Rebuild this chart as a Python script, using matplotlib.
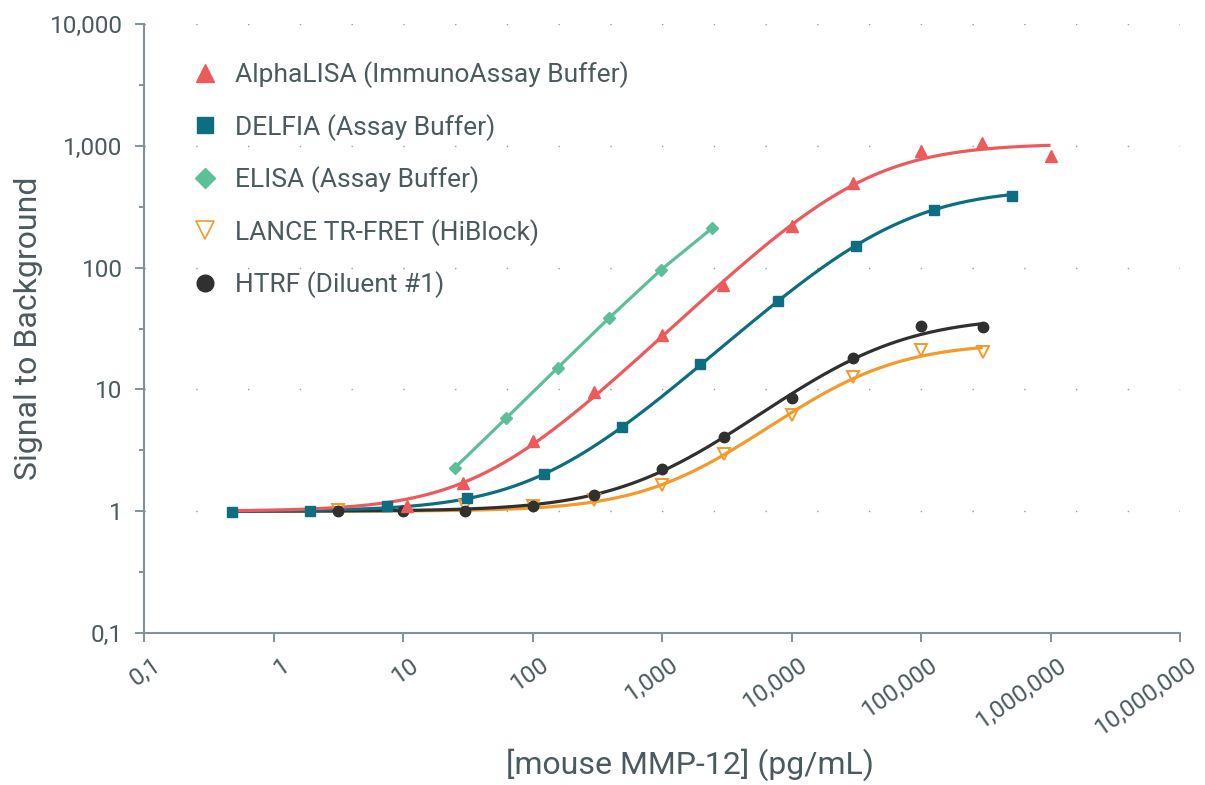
import numpy as np
import matplotlib.pyplot as plt
from matplotlib.lines import Line2D
from matplotlib.ticker import FixedLocator, NullFormatter, NullLocator
import matplotlib.transforms as mtransforms

plt.rcParams['font.family'] = ['Roboto', 'DejaVu Sans']

# Data
alpha_x = [10.8, 29, 100, 300, 1000, 2950, 10000, 30000, 100000, 295000, 1000000]
alpha_y = [1.1, 1.7, 3.77, 9.5, 28, 72, 218, 495, 912, 1060, 830]

delfia_x = [0.48, 1.9, 7.5, 31, 122, 488, 1950, 7800, 31250, 125000, 500000]
delfia_y = [0.99, 1.01, 1.1, 1.29, 2.02, 4.9, 16.2, 53, 150, 297, 387]

elisa_x = [25, 62.5, 156, 390, 977, 2441]
elisa_y = [2.26, 5.8, 15.0, 38.6, 95.5, 211]

lance_x = [3.16, 30, 100, 300, 1000, 3000, 10000, 30000, 100000, 300000]
lance_y = [1.02, 1.1, 1.1, 1.24, 1.64, 2.95, 6.17, 12.7, 21, 20.2]

htrf_x = [3.16, 10, 30, 100, 300, 1000, 3000, 10000, 30000, 100000, 300000]
htrf_y = [1.0, 1.01, 1.01, 1.1, 1.36, 2.21, 4.1, 8.45, 18.1, 33, 32.5]

labels = ['AlphaLISA (ImmunoAssay Buffer)', 'DELFIA (Assay Buffer)',
          'ELISA (Assay Buffer)', 'LANCE TR-FRET (HiBlock)', 'HTRF (Diluent #1)']

x_ticks = [0.1, 1, 10, 100, 1e3, 1e4, 1e5, 1e6, 1e7]
x_tick_labels = ['0,1', '1', '10', '100', '1,000', '10,000', '100,000',
                 '1,000,000', '10,000,000']
y_ticks = [0.1, 1, 10, 100, 1000, 10000]
y_tick_labels = ['0,1', '1', '10', '100', '1,000', '10,000']

TEXT = '#4b5a5f'
AXIS = '#7f9398'
RED = '#ec5a5b'
TEAL = '#0c6e80'
GREEN = '#5dbf98'
ORANGE = '#f39a2b'
DARK = '#303030'

BOTTOM = 1.0  # signal to background without analyte


# 4-parameter logistic fit with the bottom held at 1
# (grid over slope/midpoint, linear solve for the top)
def fit_4pl(x, y):
    lx = np.log10(x)
    y = np.asarray(y, float)
    best_err, best = np.inf, None
    for b in np.linspace(0.4, 2.5, 85):
        for c in np.linspace(0.0, 7.0, 141):
            g = 1.0 / (1.0 + 10 ** (b * (lx - c)))
            h = (1 - g) / y
            t = (y - BOTTOM * g) / y
            d = np.dot(h, t) / np.dot(h, h)
            model = BOTTOM * g + d * (1 - g)
            if np.any(model <= 0):
                continue
            err = np.sum((np.log10(model) - np.log10(y)) ** 2)
            if err < best_err:
                best_err, best = err, (b, c, d)
    return best


def fit_curve(x, y, x0):
    b, c, d = fit_4pl(x, y)
    xs = np.logspace(np.log10(x0), np.log10(max(x)), 300)
    g = 1.0 / (1.0 + (xs / 10 ** c) ** b)
    return xs, BOTTOM * g + d * (1 - g)


fig = plt.figure(figsize=(12.05, 7.85), dpi=100)
ax = fig.add_axes([0.1195, 0.1936, 0.8598, 0.7758])

ax.set_xscale('log')
ax.set_yscale('log')
ax.set_xlim(0.1, 1e7)
ax.set_ylim(0.1, 1e4)

x_start = min(delfia_x)

# fitted curves
for xs_, ys_, col in [(lance_x, lance_y, ORANGE), (htrf_x, htrf_y, DARK),
                      (delfia_x, delfia_y, TEAL), (alpha_x, alpha_y, RED)]:
    cx, cy = fit_curve(xs_, ys_, x_start)
    ax.plot(cx, cy, color=col, lw=2.3, zorder=2, solid_capstyle='butt')
ax.plot(elisa_x, elisa_y, color=GREEN, lw=2.3, zorder=2)

# data points
ax.plot(lance_x, lance_y, 'v', ms=8, mfc='none', mec=ORANGE, mew=1.4, zorder=3)
ax.plot(htrf_x, htrf_y, 'o', ms=7.5, color=DARK, zorder=3)
ax.plot(delfia_x, delfia_y, 's', ms=7.3, color=TEAL, zorder=3)
ax.plot(alpha_x, alpha_y, '^', ms=8, color=RED, zorder=3)
ax.plot(elisa_x, elisa_y, 'D', ms=6.2, color=GREEN, zorder=3)

# axes styling
for s in ['top', 'right']:
    ax.spines[s].set_visible(False)
for s in ['left', 'bottom']:
    ax.spines[s].set_color(AXIS)
    ax.spines[s].set_linewidth(1.5)

ax.set_xticks(x_ticks)
ax.set_xticklabels(x_tick_labels, rotation=35, ha='right', va='top',
                   rotation_mode='anchor')
ax.xaxis.set_minor_locator(NullLocator())
ax.set_yticks(y_ticks)
ax.set_yticklabels(y_tick_labels)
ax.yaxis.set_minor_locator(FixedLocator(10 ** (np.arange(-1, 4) + 0.5)))
ax.yaxis.set_minor_formatter(NullFormatter())

ax.tick_params(axis='both', which='major', length=6.5, width=1.4, color=AXIS,
               labelsize=17.5, labelcolor=TEXT)
ax.tick_params(axis='y', which='minor', length=3.6, width=1.4, color=AXIS)
ax.tick_params(axis='x', pad=8)
ax.tick_params(axis='y', pad=9)

shift = mtransforms.ScaledTranslation(7.5 / 100, 0, fig.dpi_scale_trans)
for lbl in ax.get_xticklabels():
    lbl.set_transform(lbl.get_transform() + shift)

ax.yaxis.grid(True, which='major', color='#9a9a9a', linewidth=1.0,
              linestyle=(0, (1.0, 36.26)))
ax.set_axisbelow(True)

ax.set_ylabel('Signal to Background', fontsize=23, color=TEXT)
ax.yaxis.set_label_coords(-0.097, 0.5)
ax.set_xlabel('[mouse MMP-12] (pg/mL)', fontsize=23, color=TEXT)
ax.xaxis.set_label_coords(0.527, -0.189)

# legend
handles = [
    Line2D([], [], ls='none', marker='^', ms=8, color=RED),
    Line2D([], [], ls='none', marker='s', ms=7.3, color=TEAL),
    Line2D([], [], ls='none', marker='D', ms=6.2, color=GREEN),
    Line2D([], [], ls='none', marker='v', ms=8, mfc='none', mec=ORANGE, mew=1.2),
    Line2D([], [], ls='none', marker='o', ms=7.5, color=DARK),
]
ax.legend(handles, labels, loc='upper left', bbox_to_anchor=(0.1592, 0.9218),
          bbox_transform=fig.transFigure, frameon=False, fontsize=19,
          labelcolor=TEXT, markerscale=1.6, handlelength=1.0,
          handletextpad=0.64, labelspacing=0.97, borderpad=0,
          borderaxespad=0)

fig.savefig('out.png', dpi=100)
